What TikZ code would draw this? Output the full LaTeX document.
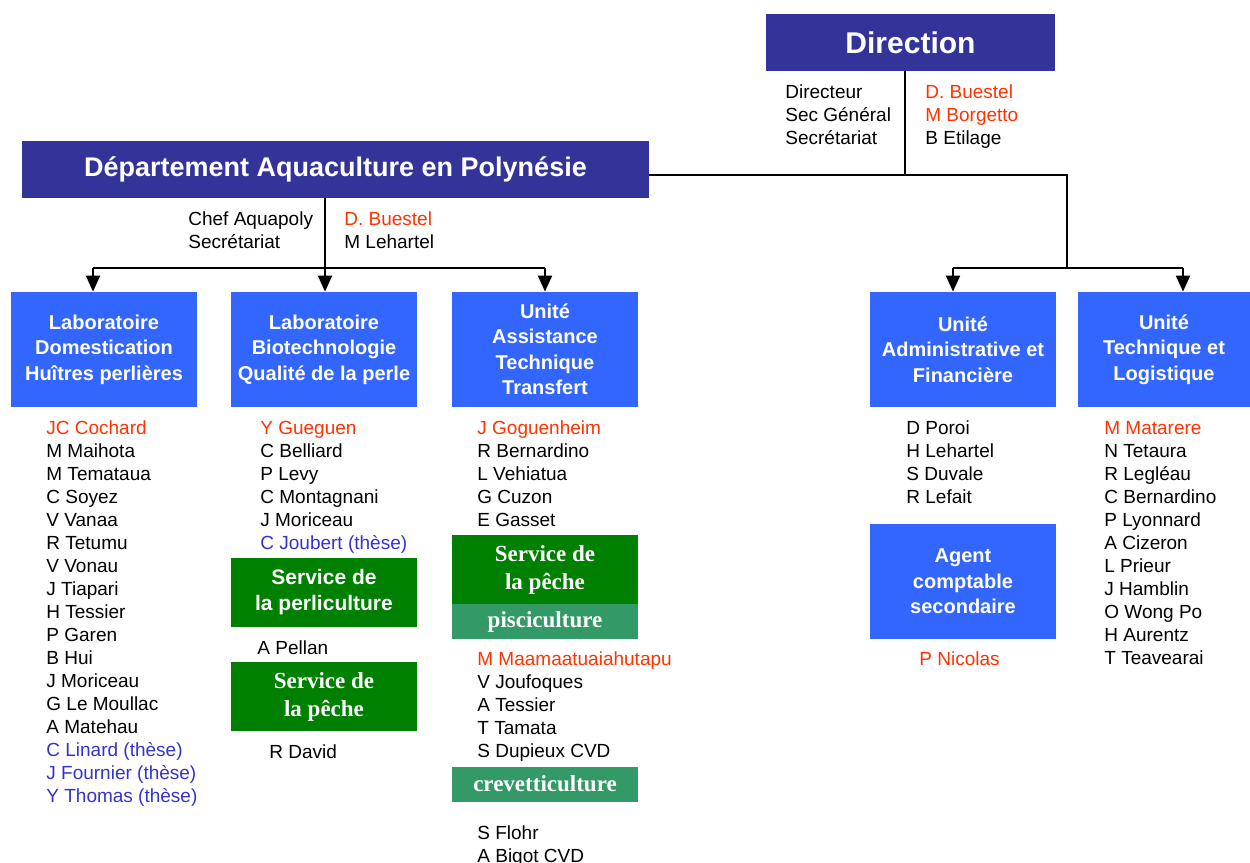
\documentclass[tikz,border=0pt]{standalone}
\usepackage{fontspec}
\setmainfont{Liberation Sans}
\newfontfamily\timesfont{Liberation Serif}
\definecolor{dirblue}{RGB}{51,51,153}
\definecolor{unitblue}{RGB}{51,102,255}
\definecolor{chefred}{RGB}{255,51,0}
\definecolor{theseblue}{RGB}{51,51,204}
\definecolor{servgreen}{RGB}{0,128,0}
\definecolor{subgreen}{RGB}{51,153,102}
\usetikzlibrary{arrows.meta,positioning}

\begin{document}
\begin{tikzpicture}[x=0.5pt,y=-0.5pt,
  title/.style={fill=dirblue,text=white,inner sep=0pt,minimum height=28.5pt,font=\bfseries\fontsize{13.5}{16}\selectfont},
  unit/.style={fill=unitblue,text=white,align=center,inner sep=0pt,minimum width=93pt,minimum height=57.5pt,font=\bfseries\fontsize{10}{12.75}\selectfont},
  serv/.style={fill=servgreen,text=white,align=center,inner sep=0pt,minimum width=93pt,minimum height=34.5pt},
  sub/.style={fill=subgreen,text=white,inner sep=0pt,minimum width=93pt,minimum height=17.5pt,font=\timesfont\bfseries\fontsize{11.5}{14}\selectfont},
  who/.style={anchor=base west,inner sep=0pt,font=\fontsize{9.5}{11.5}\selectfont},
  link/.style={line width=1pt},
  arr/.style={link,-{Triangle[width=7pt,length=8pt]}}]
  \useasboundingbox (0,0) rectangle (1250,863);

  % top of the chart
  \node[title,minimum width=144.5pt,font=\bfseries\fontsize{15}{18}\selectfont] (dir) at (910.5,42.5) {Direction};
  \node[title,minimum width=313.5pt] (dept) at (335.5,169.5) {Département Aquaculture en Polynésie};

  \foreach \t [count=\i from 0] in {Directeur,Sec Général,Secrétariat}
    \node[who] (dirl-\i) at (785,98+23*\i) {\t};
  \foreach \c/\t [count=\i from 0] in {chefred/D. Buestel,chefred/M Borgetto,black/B Etilage}
    \node[who,text=\c] (dirr-\i) at (925,98+23*\i) {\t};
  \foreach \t [count=\i from 0] in {Chef Aquapoly,Secrétariat}
    \node[who] (depl-\i) at (188,225+23*\i) {\t};
  \foreach \c/\t [count=\i from 0] in {chefred/D. Buestel,black/M Lehartel}
    \node[who,text=\c] (depr-\i) at (344,225+23*\i) {\t};

  % units
  \node[unit] (dom) at (104,349.5) {Laboratoire\\Domestication\\Huîtres perlières};
  \node[unit] (bio) at (324,349.5) {Laboratoire\\Biotechnologie\\Qualité de la perle};
  \node[unit] (uat) at (545,349.5) {Unité\\Assistance\\Technique\\Transfert};
  \node[unit] (adm) at (963,349.5) {Unité\\Administrative et\\Financière};
  \node[unit,minimum width=86pt] (tec) at (1164,349.5) {Unité\\Technique et\\Logistique};
  \node[unit] (agent) at (963,581.5) {Agent\\comptable\\secondaire};

  % services
  \node[serv,font=\bfseries\fontsize{10.5}{13}\selectfont] (perli) at (324,592.5) {Service de\\la perliculture};
  \node[serv,font=\timesfont\bfseries\fontsize{11.5}{14}\selectfont] (peche1) at (324,696.5) {Service de\\la pêche};
  \node[serv,font=\timesfont\bfseries\fontsize{11.5}{14}\selectfont] (peche2) at (545,569.5) {Service de\\la pêche};
  \node[sub] (pisci) at (545,621.5) {pisciculture};
  \node[sub] (creve) at (545,784) {crevetticulture};

  % connectors
  \coordinate (dirfoot) at (905,175);
  \coordinate (rjoin) at (1067,175);
  \coordinate (rbar) at (1067,268);
  \coordinate (r1) at (953,268);
  \coordinate (r2) at (1183,268);
  \draw[link] (dir.south -| dirfoot) -- (dirfoot);
  \draw[link] (dept.east |- rjoin) -- (rjoin) -- (rbar);
  \draw[link] (r1) -- (r2);
  \draw[arr] (r1) -- (r1 |- adm.north);
  \draw[arr] (r2) -- (r2 |- tec.north);

  \coordinate (dfoot) at (325,268);
  \coordinate (l1) at (93,268);
  \coordinate (l3) at (545,268);
  \draw[arr] (dept.south -| dfoot) -- (dfoot |- bio.north);
  \draw[link] (l1) -- (l3);
  \draw[arr] (l1) -- (l1 |- dom.north);
  \draw[arr] (l3) -- (l3 |- uat.north);

  % staff
  \foreach \c/\t [count=\i from 0] in {chefred/JC Cochard,black/M Maihota,black/M Temataua,black/C Soyez,black/V Vanaa,black/R Tetumu,black/V Vonau,black/J Tiapari,black/H Tessier,black/P Garen,black/B Hui,black/J Moriceau,black/G Le Moullac,black/A Matehau,theseblue/C Linard (thèse),theseblue/J Fournier (thèse),theseblue/Y Thomas (thèse)}
    \node[who,text=\c] (doms-\i) at (46,434+23*\i) {\t};
  \foreach \c/\t [count=\i from 0] in {chefred/Y Gueguen,black/C Belliard,black/P Levy,black/C Montagnani,black/J Moriceau,theseblue/C Joubert (thèse)}
    \node[who,text=\c] (bios-\i) at (260,434+23*\i) {\t};
  \node[who] (pellan) at (257,654) {A Pellan};
  \node[who] (david) at (269,758) {R David};
  \foreach \c/\t [count=\i from 0] in {chefred/J Goguenheim,black/R Bernardino,black/L Vehiatua,black/G Cuzon,black/E Gasset}
    \node[who,text=\c] (uats-\i) at (477,434+23*\i) {\t};
  \foreach \c/\t [count=\i from 0] in {chefred/M Maamaatuaiahutapu,black/V Joufoques,black/A Tessier,black/T Tamata,black/S Dupieux CVD}
    \node[who,text=\c] (piscs-\i) at (477,665+23*\i) {\t};
  \foreach \t [count=\i from 0] in {S Flohr,A Bigot CVD}
    \node[who] (creves-\i) at (477,839+23*\i) {\t};
  \foreach \t [count=\i from 0] in {D Poroi,H Lehartel,S Duvale,R Lefait}
    \node[who] (adms-\i) at (906,434+23*\i) {\t};
  \node[who,text=chefred] (nicolas) at (919,665) {P Nicolas};
  \foreach \c/\t [count=\i from 0] in {chefred/M Matarere,black/N Tetaura,black/R Legléau,black/C Bernardino,black/P Lyonnard,black/A Cizeron,black/L Prieur,black/J Hamblin,black/O Wong Po,black/H Aurentz,black/T Teavearai}
    \node[who,text=\c] (tecs-\i) at (1104,434+23*\i) {\t};
\end{tikzpicture}
\end{document}
